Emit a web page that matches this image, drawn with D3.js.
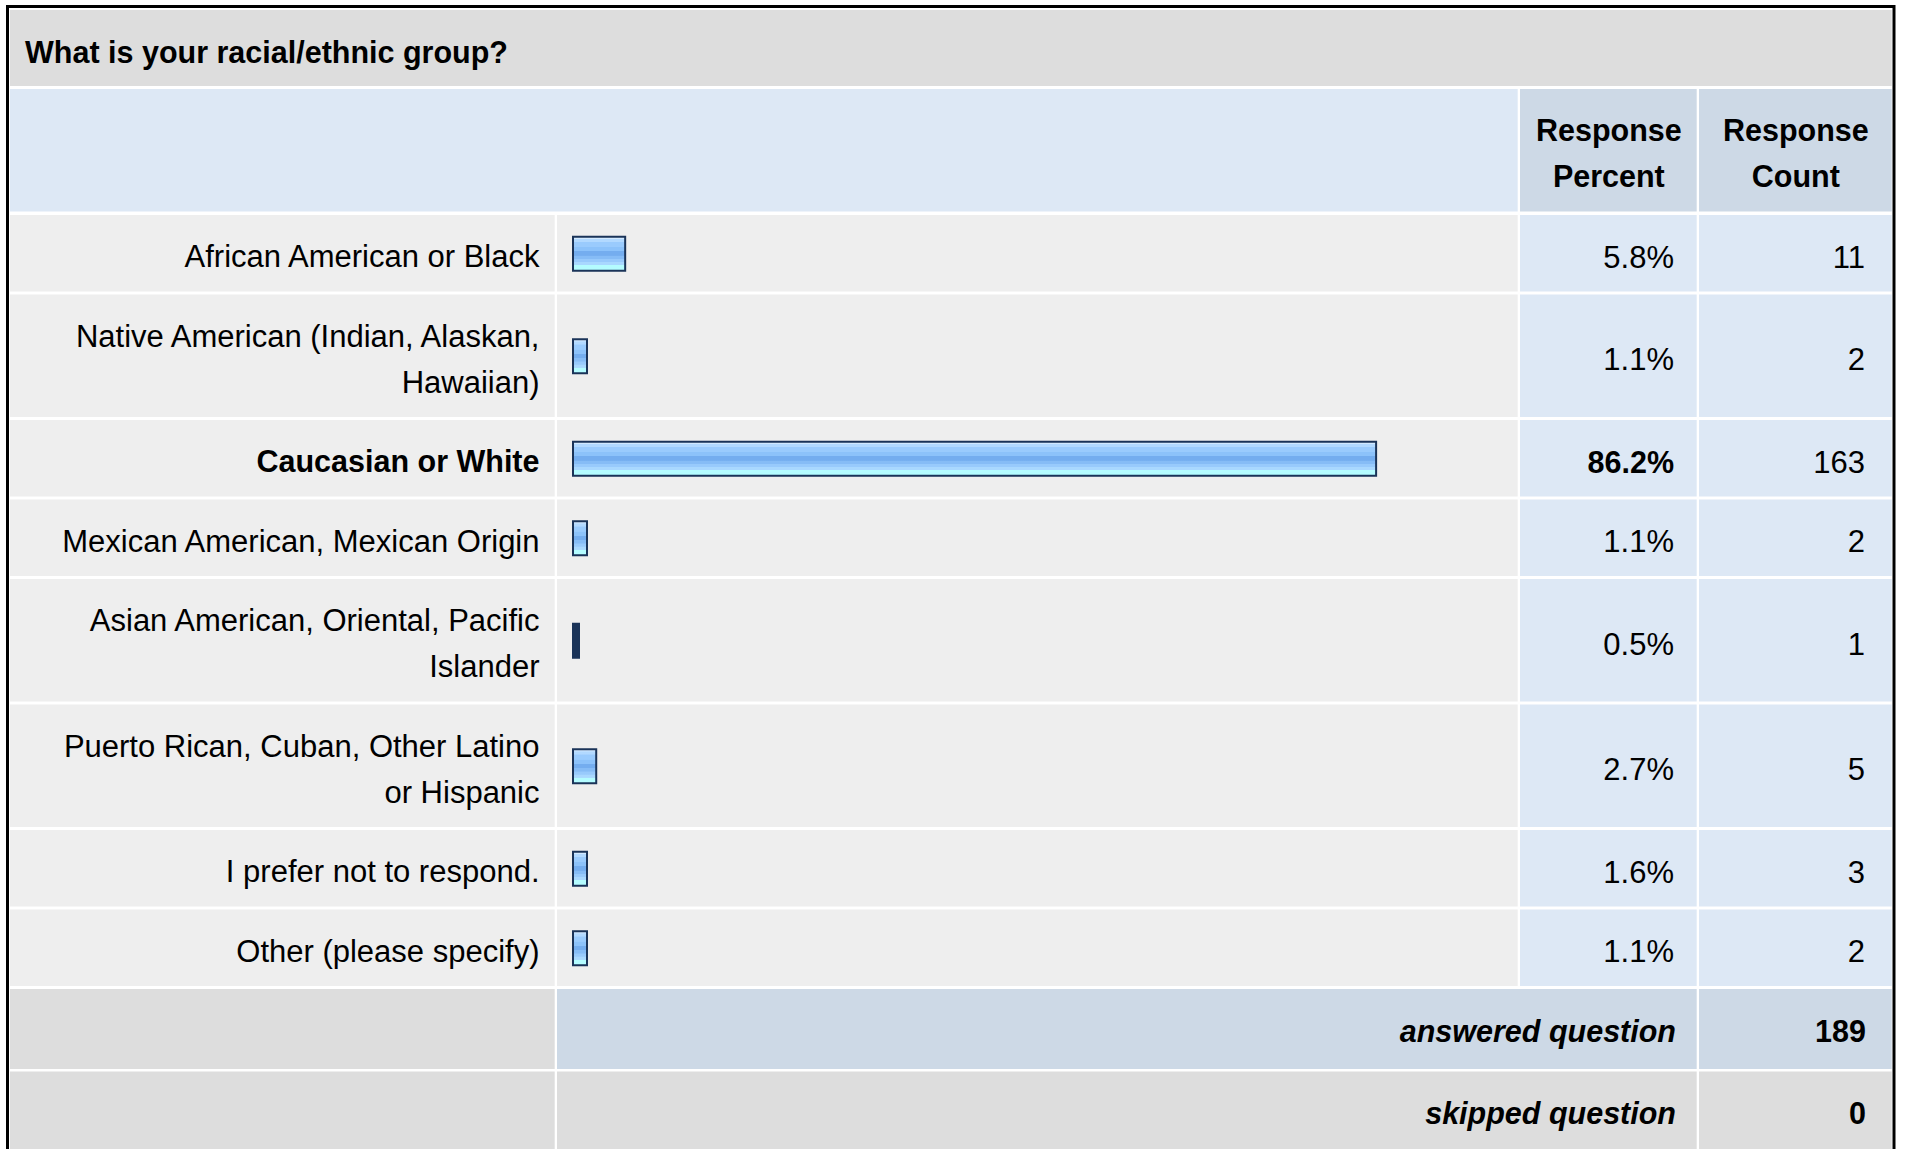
<!DOCTYPE html>
<html>
<head>
<meta charset="utf-8">
<script src="https://cdn.jsdelivr.net/npm/d3@7/dist/d3.min.js"></script>
<style>
  html, body { margin: 0; padding: 0; background: #fff; }
  svg { display: block; }
  text { font-family: "Liberation Sans", Arial, Helvetica, sans-serif; fill: #000; }
</style>
</head>
<body>
<svg id="chart" width="1907" height="1149"></svg>
<script>
// ---------------- data ----------------
const title = "What is your racial/ethnic group?";
const categories = [
  "African American or Black",
  "Native American (Indian, Alaskan, Hawaiian)",
  "Caucasian or White",
  "Mexican American, Mexican Origin",
  "Asian American, Oriental, Pacific Islander",
  "Puerto Rican, Cuban, Other Latino or Hispanic",
  "I prefer not to respond.",
  "Other (please specify)"
];
const percents = [5.8, 1.1, 86.2, 1.1, 0.5, 2.7, 1.6, 1.1];
const counts = [11, 2, 163, 2, 1, 5, 3, 2];
const headerPercent = ["Response", "Percent"];
const headerCount = ["Response", "Count"];
const summaryLabels = ["answered question", "skipped question"];
const summaryValues = [189, 0];

// ---------------- layout ----------------
const svg = d3.select("#chart");
const W = 1907, H = 1149;
const gap = 2.5;
const col0 = [10, 554.7], col1 = [557, 1517.7], col2 = [1520, 1696.7], col3 = [1699, 1891.7];
const padV = 30.5, lineH = 46, firstBase = 52.3;
const fsReg = 31, fsBold = 30.5;

const C = {
  title: "#dddddd", headBlue: "#dde8f5", headCell: "#cdd9e6",
  rowGray: "#eeeeee", rowBlue: "#dde8f5", sumGray: "#dddddd", sumBlue: "#cdd9e6",
  border: "#000", barEdge: "#1a3358"
};

svg.append("rect").attr("width", W).attr("height", H).attr("fill", "#fff");

// gradient for bars
const defs = svg.append("defs");
const grad = defs.append("linearGradient").attr("id", "barGrad")
  .attr("x1", 0).attr("y1", 0).attr("x2", 0).attr("y2", 1);
const stops = [
  [0, "#d2e9ff"], [0.06, "#d2e9ff"], [0.07, "#b2d9ff"], [0.15, "#b2d9ff"],
  [0.16, "#9acbfd"], [0.30, "#9acbfd"], [0.31, "#8cc2fa"], [0.42, "#8cc2fa"],
  [0.43, "#74adef"], [0.55, "#74adef"], [0.56, "#86bcf6"], [0.65, "#86bcf6"],
  [0.66, "#98cafc"], [0.74, "#98cafc"], [0.75, "#a9d8ff"], [0.83, "#a9d8ff"],
  [0.84, "#b4fcff"], [1, "#b4fcff"]
];
stops.forEach(s => grad.append("stop").attr("offset", s[0]).attr("stop-color", s[1]));

// title row
svg.append("rect").attr("x", col0[0]).attr("y", 10).attr("width", col3[1] - col0[0]).attr("height", 76).attr("fill", C.title);
svg.append("text").attr("x", 25).attr("y", 63.3).attr("font-size", fsBold).attr("font-weight", "bold").text(title);

// header row
const headTop = 89, headH = padV + 2 * lineH;
svg.append("rect").attr("x", col0[0]).attr("y", headTop).attr("width", col1[1] - col0[0]).attr("height", headH).attr("fill", C.headBlue);
[[col2, headerPercent], [col3, headerCount]].forEach(([c, lines]) => {
  svg.append("rect").attr("x", c[0]).attr("y", headTop).attr("width", c[1] - c[0]).attr("height", headH).attr("fill", C.headCell);
  const t = svg.append("text").attr("x", (c[0] + c[1]) / 2 + 0.5).attr("y", headTop + firstBase)
    .attr("text-anchor", "middle").attr("font-size", fsBold).attr("font-weight", "bold");
  lines.forEach((l, i) => t.append("tspan").attr("x", (c[0] + c[1]) / 2 + 0.5).attr("dy", i === 0 ? 0 : lineH).text(l));
});

// wrap labels by measuring
const maxLabelW = 500;
const measurer = svg.append("text").attr("font-size", fsBold + 1).attr("font-weight", "bold").attr("visibility", "hidden");
function wrap(str, bold) {
  measurer.attr("font-size", bold ? fsBold : fsReg).attr("font-weight", bold ? "bold" : "normal");
  const words = str.split(" ");
  const lines = [];
  let cur = "";
  words.forEach(w => {
    const test = cur ? cur + " " + w : w;
    measurer.text(test);
    if (measurer.node().getComputedTextLength() > maxLabelW && cur) { lines.push(cur); cur = w; }
    else cur = test;
  });
  if (cur) lines.push(cur);
  return lines;
}
const maxP = d3.max(percents);
const rows = categories.map((c, i) => ({
  label: c, pct: percents[i], count: counts[i], bold: percents[i] === maxP
}));
rows.forEach(r => { r.lines = wrap(r.label, r.bold); r.h = padV + lineH * r.lines.length; });
measurer.remove();
let yCur = 215;
rows.forEach(r => { r.y = yCur; yCur += r.h + 3; });

const x = d3.scaleLinear().domain([0, 100]).range([0, 934]);
const barLeft = col1[0] + 15, barH = 36;

const g = svg.append("g");
const rg = g.selectAll("g.row").data(rows).join("g").attr("class", "row");
rg.append("rect").attr("x", col0[0]).attr("y", d => d.y).attr("width", col0[1] - col0[0]).attr("height", d => d.h).attr("fill", C.rowGray);
rg.append("rect").attr("x", col1[0]).attr("y", d => d.y).attr("width", col1[1] - col1[0]).attr("height", d => d.h).attr("fill", C.rowGray);
rg.append("rect").attr("x", col2[0]).attr("y", d => d.y).attr("width", col2[1] - col2[0]).attr("height", d => d.h).attr("fill", C.rowBlue);
rg.append("rect").attr("x", col3[0]).attr("y", d => d.y).attr("width", col3[1] - col3[0]).attr("height", d => d.h).attr("fill", C.rowBlue);

// labels
rg.each(function (d) {
  const t = d3.select(this).append("text").attr("text-anchor", "end")
    .attr("font-size", d.bold ? fsBold : fsReg).attr("font-weight", d.bold ? "bold" : "normal")
    .attr("y", d.y + firstBase);
  d.lines.forEach((l, i) => t.append("tspan").attr("x", 539.5).attr("dy", i === 0 ? 0 : lineH).text(l));
});

// bars
const barW = p => p < 1 ? 8 : Math.max(16, x(p));
rg.append("rect")
  .attr("x", barLeft + 1)
  .attr("y", d => d.y + d.h / 2 - barH / 2 + 1.5)
  .attr("width", d => barW(d.pct) - 2)
  .attr("height", barH - 2)
  .attr("fill", d => d.pct < 1 ? C.barEdge : "url(#barGrad)")
  .attr("stroke", C.barEdge).attr("stroke-width", 2);

// percent and count
rg.append("text").attr("text-anchor", "end").attr("x", 1674)
  .attr("y", d => d.y + d.h / 2 + 14.5)
  .attr("font-size", d => d.bold ? fsBold : fsReg).attr("font-weight", d => d.bold ? "bold" : "normal")
  .text(d => d.pct.toFixed(1) + "%");
rg.append("text").attr("text-anchor", "end").attr("x", 1865)
  .attr("y", d => d.y + d.h / 2 + 14.5)
  .attr("font-size", fsReg)
  .text(d => d.count);

// summary rows
const sumTop = yCur;
const sumH = [80, 80];
const sumRows = summaryLabels.map((l, i) => ({
  label: l, value: summaryValues[i], h: sumH[i],
  y: sumTop + (i === 0 ? 0 : sumH[0] + 2.5),
  mid: i === 0 ? C.sumBlue : C.sumGray
}));
const sg = g.selectAll("g.sum").data(sumRows).join("g").attr("class", "sum");
sg.append("rect").attr("x", col0[0]).attr("y", d => d.y).attr("width", col0[1] - col0[0]).attr("height", d => d.h).attr("fill", C.sumGray);
sg.append("rect").attr("x", col1[0]).attr("y", d => d.y).attr("width", col2[1] - col1[0]).attr("height", d => d.h).attr("fill", d => d.mid);
sg.append("rect").attr("x", col3[0]).attr("y", d => d.y).attr("width", col3[1] - col3[0]).attr("height", d => d.h).attr("fill", d => d.mid);
sg.append("text").attr("text-anchor", "end").attr("x", 1676).attr("y", d => d.y + 52.5)
  .attr("font-size", fsBold).attr("font-weight", "bold").attr("font-style", "italic").text(d => d.label);
sg.append("text").attr("text-anchor", "end").attr("x", 1866).attr("y", d => d.y + 52.5)
  .attr("font-size", fsBold).attr("font-weight", "bold").text(d => d.value);

// outer border
svg.append("rect").attr("x", 7.5).attr("y", 6.5).attr("width", 1886.5).attr("height", 1300)
  .attr("fill", "none").attr("stroke", C.border).attr("stroke-width", 3);
</script>
</body>
</html>
